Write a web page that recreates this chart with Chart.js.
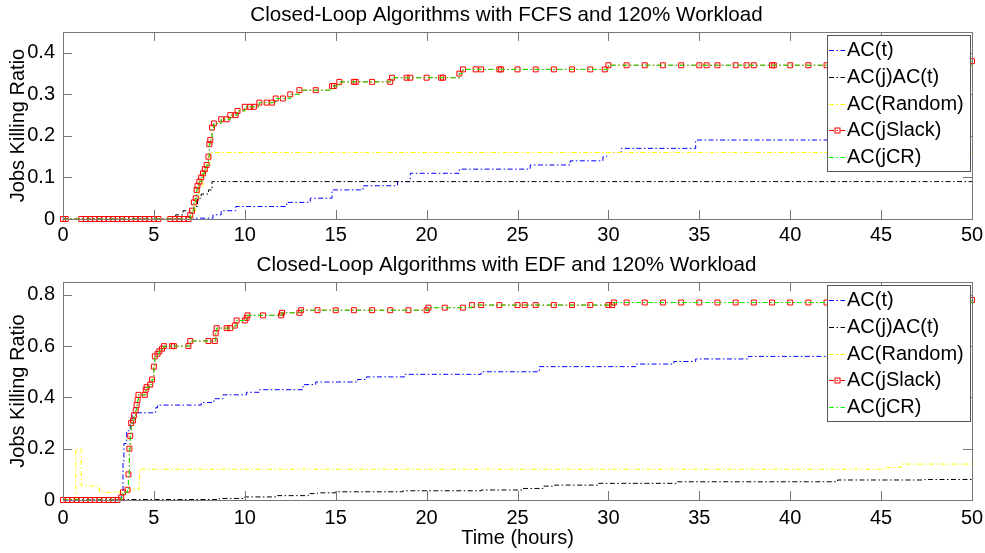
<!DOCTYPE html>
<html>
<head>
<meta charset="utf-8">
<title>Closed-Loop Algorithms - Jobs Killing Ratio</title>
<script src="https://cdn.jsdelivr.net/npm/chart.js@4.4.1/dist/chart.umd.min.js"></script>
<style>
  body { margin: 0; background: #fff; }
  canvas { display: block; }
</style>
</head>
<body>
<canvas id="fcfsChart" width="985" height="250"></canvas>
<canvas id="edfChart" width="985" height="303"></canvas>
<script>
// Axis ticks and legend names
const xTicks = [0, 5, 10, 15, 20, 25, 30, 35, 40, 45, 50];
const fcfsYTicks = [0, 0.1, 0.2, 0.3, 0.4];
const edfYTicks = [0, 0.2, 0.4, 0.6, 0.8];
const seriesNames = ['AC(t)', 'AC(j)AC(t)', 'AC(Random)', 'AC(jSlack)', 'AC(jCR)'];

// FCFS runs: [time in hours, jobs killing ratio]
const fcfsAcT = [[0, 0], [7.3, 0.002], [8.25, 0.01], [8.7, 0.02], [9.5, 0.03], [12.3, 0.04], [13.6, 0.05],
  [14.8, 0.07], [16.5, 0.08], [18.4, 0.09], [19.1, 0.11], [21.8, 0.12], [25.7, 0.13], [27.9, 0.14],
  [29.7, 0.15], [29.9, 0.16], [30.7, 0.17], [34.8, 0.19], [46.5, 0.21], [50, 0.21]];
const fcfsAcJ = [[0, 0], [6.2, 0.01], [6.6, 0.02], [7.2, 0.03], [7.4, 0.05], [7.6, 0.06], [8.0, 0.07],
  [8.2, 0.09], [50, 0.09]];
const fcfsRandom = [[0, 0], [7.1, 0.02], [7.3, 0.05], [7.5, 0.08], [7.7, 0.11], [7.9, 0.13], [8.1, 0.16],
  [50, 0.16]];
const fcfsSlack = [[0, 0], [0.15, 0], [1.0, 0], [1.25, 0], [1.5, 0], [1.75, 0], [2.0, 0], [2.25, 0],
  [2.5, 0], [2.75, 0], [3.0, 0], [3.25, 0], [3.5, 0], [3.75, 0], [4.0, 0], [4.25, 0], [4.5, 0],
  [4.75, 0], [5.0, 0], [5.25, 0], [5.9, 0], [6.15, 0], [6.4, 0], [6.65, 0], [6.9, 0],
  [7.0, 0.01], [7.1, 0.02], [7.2, 0.04], [7.3, 0.05], [7.35, 0.07], [7.4, 0.08], [7.5, 0.09],
  [7.6, 0.10], [7.7, 0.11], [7.8, 0.12], [7.9, 0.13], [8.0, 0.15], [8.05, 0.18], [8.1, 0.19],
  [8.2, 0.22], [8.3, 0.23], [8.7, 0.24], [9.0, 0.24], [9.2, 0.25], [9.5, 0.25], [9.6, 0.26],
  [10.0, 0.27], [10.3, 0.27], [10.5, 0.27], [10.8, 0.28], [11.2, 0.28], [11.5, 0.28], [11.7, 0.29],
  [12.1, 0.29], [12.5, 0.30], [13.0, 0.31], [13.9, 0.31], [14.8, 0.32], [14.9, 0.32], [15.2, 0.33],
  [16.0, 0.33], [16.1, 0.33], [17.0, 0.33], [18.0, 0.33], [18.1, 0.34], [18.9, 0.34], [19.1, 0.34],
  [20.0, 0.34], [20.8, 0.34], [20.9, 0.34], [21.8, 0.35], [22.0, 0.36], [22.7, 0.36], [23.0, 0.36],
  [24.0, 0.36], [24.1, 0.36], [25, 0.36], [26, 0.36], [27, 0.36], [28, 0.36], [29, 0.36],
  [29.8, 0.36], [30.0, 0.37], [31, 0.37], [32, 0.37], [33, 0.37], [34, 0.37], [35, 0.37],
  [35.4, 0.37], [36, 0.37], [37, 0.37], [37.6, 0.37], [38, 0.37], [39, 0.37], [39.1, 0.37],
  [40, 0.37], [41, 0.37], [42, 0.37], [43, 0.37], [44, 0.37], [45, 0.37], [46, 0.37], [47, 0.37],
  [48, 0.37], [49, 0.37], [50, 0.38]];
// jCR sits right on top of jSlack in the figure
const fcfsCR = fcfsSlack;

// EDF runs: [time in hours, jobs killing ratio]
const edfAcT = [[0, 0], [3.2, 0.02], [3.3, 0.15], [3.35, 0.22], [3.5, 0.27], [3.7, 0.30], [3.8, 0.34],
  [5.1, 0.36], [5.2, 0.37], [7.6, 0.38], [8.3, 0.395], [8.8, 0.41], [10.1, 0.42], [10.8, 0.43],
  [13.2, 0.45], [13.9, 0.46], [16.2, 0.47], [16.7, 0.48], [18.8, 0.49], [23.0, 0.50], [26.2, 0.52],
  [31.5, 0.53], [33.6, 0.54], [34.8, 0.55], [37.7, 0.56], [50, 0.56]];
const edfAcJ = [[0, 0], [3.3, 0.002], [8.6, 0.006], [10.0, 0.012], [11.8, 0.017], [13.5, 0.025],
  [14.0, 0.028], [15.0, 0.032], [18.7, 0.036], [23.0, 0.039], [25.3, 0.045], [26.4, 0.054],
  [27.0, 0.058], [29.4, 0.065], [33.8, 0.071], [42.6, 0.078], [47.4, 0.08], [50, 0.08]];
const edfRandom = [[0, 0], [0.7, 0.2], [1.0, 0.055], [2.0, 0.03], [3.7, 0.043], [4.2, 0.12],
  [45.2, 0.127], [46.1, 0.14], [50, 0.14]];
const edfSlack = [[0, 0], [0.25, 0], [0.5, 0], [0.75, 0], [1.0, 0], [1.25, 0], [1.5, 0], [1.75, 0],
  [2.0, 0], [2.25, 0], [2.5, 0], [2.75, 0], [3.0, 0], [3.2, 0.01], [3.3, 0.03], [3.55, 0.04],
  [3.6, 0.10], [3.65, 0.20], [3.7, 0.25], [3.75, 0.30], [3.85, 0.31], [3.9, 0.33], [4.0, 0.35],
  [4.05, 0.37], [4.1, 0.39], [4.15, 0.41], [4.5, 0.41], [4.55, 0.43], [4.6, 0.44], [4.8, 0.45],
  [4.9, 0.47], [5.0, 0.52], [5.05, 0.56], [5.2, 0.57], [5.3, 0.58], [5.45, 0.59], [5.55, 0.60],
  [6.0, 0.60], [6.1, 0.60], [6.9, 0.60], [7.0, 0.62], [8.0, 0.62], [8.35, 0.62], [8.4, 0.65],
  [8.45, 0.67], [9.0, 0.67], [9.2, 0.67], [9.45, 0.68], [9.55, 0.70], [10.0, 0.70], [10.1, 0.71],
  [10.15, 0.72], [11, 0.72], [12, 0.72], [12.05, 0.73], [13, 0.73], [13.1, 0.74], [14, 0.74],
  [15, 0.74], [16, 0.74], [17, 0.74], [18, 0.74], [19, 0.74], [20, 0.74], [20.1, 0.75], [21, 0.75],
  [22, 0.75], [22.5, 0.76], [23, 0.76], [24, 0.76], [25, 0.76], [25.4, 0.76], [26, 0.76], [27, 0.76],
  [28, 0.76], [29, 0.76], [30, 0.76], [30.2, 0.76], [30.3, 0.77], [31, 0.77], [32, 0.77], [33, 0.77],
  [34, 0.77], [35, 0.77], [36, 0.77], [37, 0.77], [38, 0.77], [39, 0.77], [40, 0.77], [41, 0.77],
  [42, 0.77], [43, 0.77], [44, 0.77], [45, 0.77], [46, 0.77], [47, 0.77], [48, 0.77], [49, 0.77],
  [50, 0.78]];
const edfCR = edfSlack;

Chart.defaults.font.family = "'Liberation Sans', Arial, Helvetica, sans-serif";
Chart.defaults.font.size = 20;
Chart.defaults.color = '#000';

// MATLAB-like box, inward ticks, title and boxed legend
const matlabAxes = {
  id: 'matlabAxes',
  afterDatasetsDraw(chart) {
    const { ctx, chartArea: a, scales: { x, y } } = chart;
    ctx.save();
    ctx.strokeStyle = '#777';
    ctx.lineWidth = 1;
    ctx.setLineDash([]);
    ctx.strokeRect(a.left + 0.5, a.top + 0.5, a.right - a.left, a.bottom - a.top);
    ctx.beginPath();
    x.ticks.forEach(t => {
      const px = Math.round(x.getPixelForValue(t.value)) + 0.5;
      ctx.moveTo(px, a.bottom); ctx.lineTo(px, a.bottom - 9);
      ctx.moveTo(px, a.top); ctx.lineTo(px, a.top + 9);
    });
    y.ticks.forEach(t => {
      const py = Math.round(y.getPixelForValue(t.value)) + 0.5;
      ctx.moveTo(a.left, py); ctx.lineTo(a.left + 9, py);
      ctx.moveTo(a.right, py); ctx.lineTo(a.right - 9, py);
    });
    ctx.stroke();
    ctx.restore();
  },
  afterDraw(chart, args, opts) {
    const { ctx, chartArea: a } = chart;
    ctx.save();

    // Title
    ctx.fillStyle = '#000';
    ctx.font = "20.6px 'Liberation Sans', Arial, sans-serif";
    ctx.textAlign = 'center';
    ctx.textBaseline = 'middle';
    ctx.fillText(opts.title, (a.left + a.right) / 2 - 11, 15.5);

    // Legend box
    const box = { left: 827, top: 35, right: 970, bottom: 171 };
    ctx.fillStyle = '#fff';
    ctx.fillRect(box.left, box.top, box.right - box.left, box.bottom - box.top);
    ctx.strokeStyle = '#555';
    ctx.lineWidth = 1;
    ctx.strokeRect(box.left + 0.5, box.top + 0.5, box.right - box.left, box.bottom - box.top);

    ctx.font = "20px 'Liberation Sans', Arial, sans-serif";
    chart.data.datasets.forEach((ds, i) => {
      const cy = Math.round(box.top + 15 + i * 26.8) + 0.5;
      ctx.strokeStyle = ds.borderColor;
      ctx.setLineDash(ds.borderDash);
      ctx.beginPath();
      ctx.moveTo(829, cy);
      ctx.lineTo(845, cy);
      ctx.stroke();
      ctx.setLineDash([]);
      if (ds.pointRadius > 0) {
        ctx.strokeRect(835, cy - 2.5, 5, 5);
      }
      ctx.fillStyle = '#000';
      ctx.textAlign = 'left';
      ctx.fillText(ds.label, 847, cy);
    });
    ctx.restore();
  }
};

function makeSeries(label, points, color, withMarkers, order) {
  return {
    label: label,
    order: order,
    data: points.map(p => ({ x: p[0], y: p[1] })),
    borderColor: color,
    backgroundColor: color,
    borderWidth: 1,
    borderDash: [5, 2.5, 1.5, 2.5],
    stepped: true,
    clip: false,
    pointStyle: 'rect',
    pointRadius: withMarkers ? 3.5 : 0,
    pointBorderColor: color,
    pointBackgroundColor: 'rgba(255,255,255,0)',
    pointBorderWidth: 1
  };
}

function makeChart(canvasId, title, series, yMax, yTicks, xHeight, xPad, showXTitle) {
  const ctx = document.getElementById(canvasId).getContext('2d');
  return new Chart(ctx, {
    type: 'line',
    data: {
      datasets: [
        makeSeries(seriesNames[0], series[0], '#0000ff', false, 5),
        makeSeries(seriesNames[1], series[1], '#000000', false, 4),
        makeSeries(seriesNames[2], series[2], '#ffff00', false, 3),
        makeSeries(seriesNames[3], series[3], '#ff0000', true, 2),
        makeSeries(seriesNames[4], series[4], '#00ff00', false, 1)
      ]
    },
    options: {
      responsive: false,
      animation: false,
      events: [],
      layout: { padding: { top: 32, right: 13, bottom: 0, left: 0 } },
      scales: {
        x: {
          type: 'linear',
          min: 0,
          max: 50,
          afterBuildTicks: s => { s.ticks = xTicks.map(v => ({ value: v })); },
          // fixed height; the end labels may hang past the plot box
          afterFit: s => { s.height = xHeight; s.paddingLeft = 0; s.paddingRight = 0; },
          grid: { display: false, drawTicks: false },
          border: { display: false },
          ticks: { padding: xPad, maxRotation: 0, autoSkip: false },
          title: {
            display: showXTitle,
            text: 'Time (hours)',
            padding: { top: 0, bottom: 3 }
          }
        },
        y: {
          type: 'linear',
          min: 0,
          max: yMax,
          afterBuildTicks: s => { s.ticks = yTicks.map(v => ({ value: v })); },
          afterFit: s => { s.width = 63; },
          grid: { display: false, drawTicks: false },
          border: { display: false },
          ticks: { padding: 8, callback: v => String(v) },
          title: {
            display: true,
            text: 'Jobs Killing Ratio',
            padding: { top: 6, bottom: 0 }
          }
        }
      },
      plugins: {
        legend: { display: false },
        tooltip: { enabled: false },
        matlabAxes: { title: title }
      }
    },
    plugins: [matlabAxes]
  });
}

makeChart('fcfsChart', 'Closed-Loop Algorithms with FCFS and 120% Workload',
  [fcfsAcT, fcfsAcJ, fcfsRandom, fcfsSlack, fcfsCR], 0.45, fcfsYTicks, 31, 4, false);
makeChart('edfChart', 'Closed-Loop Algorithms with EDF and 120% Workload',
  [edfAcT, edfAcJ, edfRandom, edfSlack, edfCR], 0.85, edfYTicks, 53, 6, true);
</script>
</body>
</html>
